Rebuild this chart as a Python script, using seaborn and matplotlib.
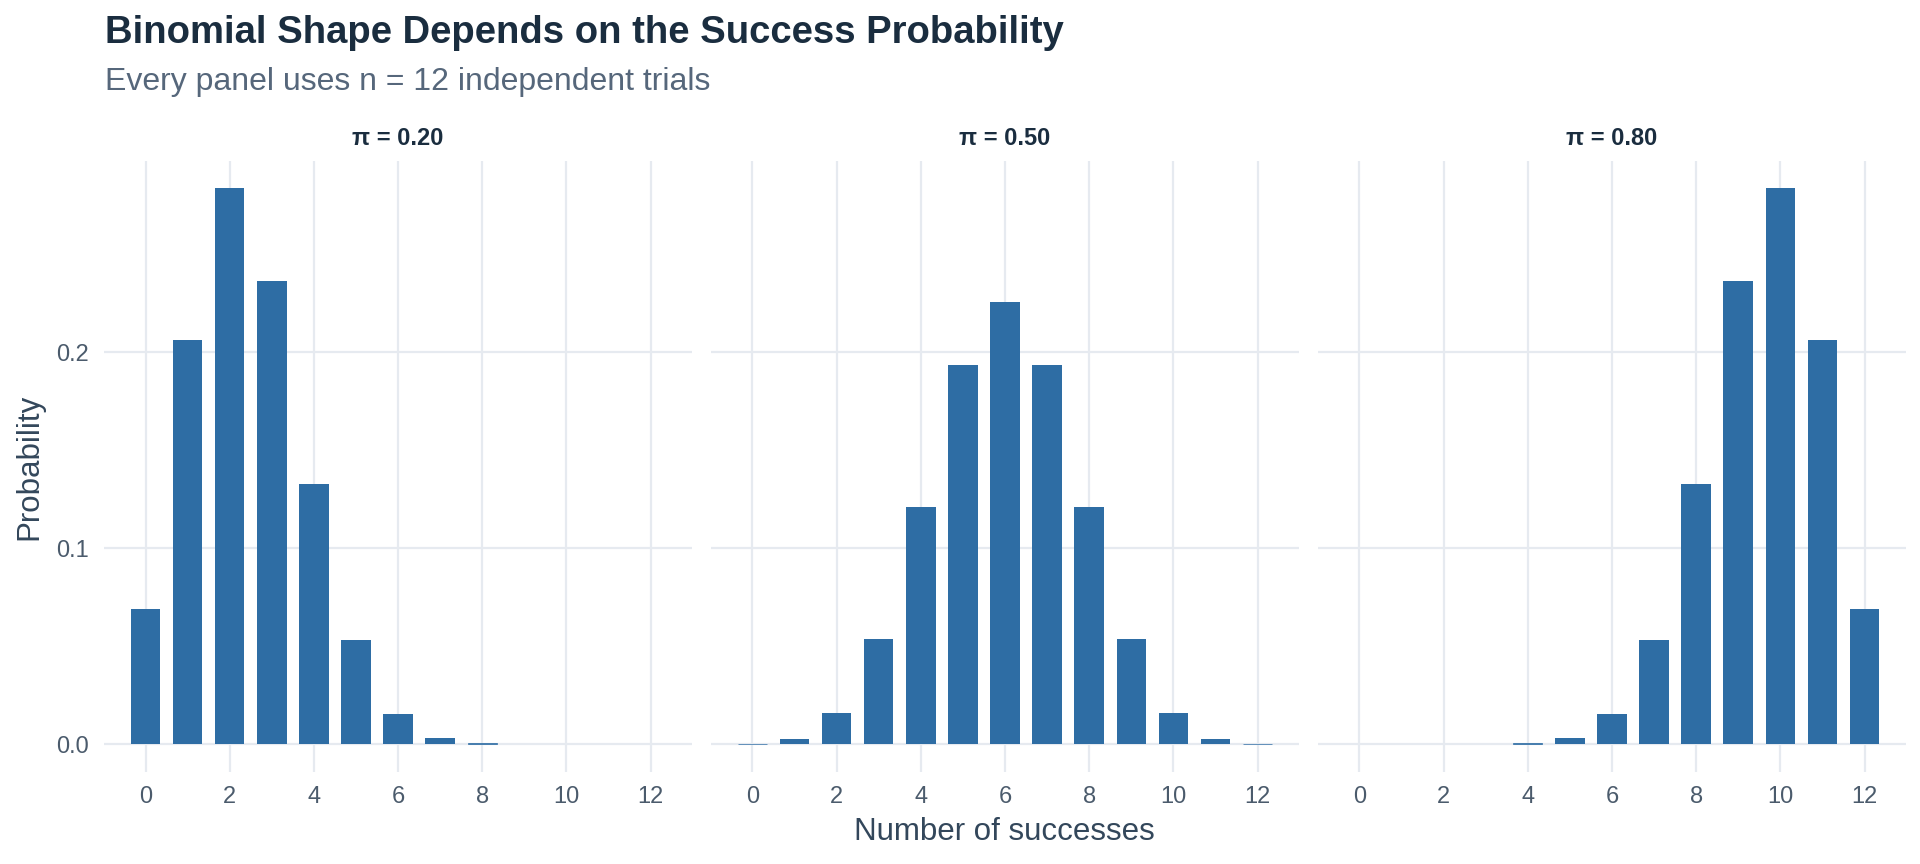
import numpy as np
import pandas as pd
import matplotlib
matplotlib.use("Agg")
import matplotlib.pyplot as plt
import seaborn as sns

# values (n = 12 trials)
successes = list(range(13))
panel_labels = ["π = 0.20", "π = 0.50", "π = 0.80"]
prob_020 = [0.0687, 0.2062, 0.2835, 0.2362, 0.1329, 0.0532, 0.0155,
            0.0033, 0.0005, 0.0001, 0.0, 0.0, 0.0]
prob_050 = [0.0002, 0.0029, 0.0161, 0.0537, 0.1208, 0.1934, 0.2256,
            0.1934, 0.1208, 0.0537, 0.0161, 0.0029, 0.0002]
prob_080 = [0.0, 0.0, 0.0, 0.0001, 0.0005, 0.0033, 0.0155,
            0.0532, 0.1329, 0.2362, 0.2835, 0.2062, 0.0687]

bar_color = "#2e6da4"
grid_color = "#e6eaf0"
title_color = "#1a2d3f"
sub_color = "#56677b"
text_color = "#33475b"
tick_color = "#4b5b6c"

df = pd.DataFrame({
    "successes": successes * 3,
    "probability": prob_020 + prob_050 + prob_080,
    "panel": np.repeat(panel_labels, len(successes)),
})

sns.set_theme(style="white")
plt.rcParams["font.family"] = ["Liberation Sans", "DejaVu Sans"]

g = sns.FacetGrid(df, col="panel", col_order=panel_labels, sharex=True, sharey=True,
                  height=8.64, aspect=1920 / 864 / 3, despine=False)
g.map_dataframe(sns.barplot, x="successes", y="probability", native_scale=True,
                width=0.7, color=bar_color, linewidth=0, saturation=1)
g.figure.set_size_inches(19.2, 8.64)
g.figure.subplots_adjust(left=0.0542, right=0.9927, top=0.8142, bottom=0.1065, wspace=0.032)

# very small bars: give the nonzero ones a hairline outline so they stay visible
for ax in g.axes.flat:
    for bar in ax.patches:
        if 0.00015 < bar.get_height() < 0.002:
            bar.set_edgecolor(bar_color)
            bar.set_linewidth(0.5)

ymax = max(prob_020 + prob_050 + prob_080)
for ax, label in zip(g.axes.flat, panel_labels):
    ax.set_xlim(-0.985, 12.985)
    ax.set_ylim(-0.05 * ymax, 1.05 * ymax)
    ax.set_xticks(range(0, 13, 2))
    ax.set_xticklabels([str(v) for v in range(0, 13, 2)])
    ax.set_yticks([0.0, 0.1, 0.2])
    ax.grid(True, color=grid_color, linewidth=1.6)
    ax.set_axisbelow(True)
    for s in ax.spines.values():
        s.set_visible(False)
    ax.tick_params(length=0, labelsize=17, colors=tick_color)
    ax.tick_params(axis="x", pad=10)
    ax.tick_params(axis="y", pad=11)
    ax.set_title(label, fontsize=17, fontweight="bold", color=title_color, pad=11)
    ax.set_xlabel("")
    ax.set_ylabel("")

fig = g.figure
fig.text(0.0547, 0.950, "Binomial Shape Depends on the Success Probability",
         fontsize=27.5, fontweight="bold", color=title_color, va="baseline", ha="left")
fig.text(0.0547, 0.896, "Every panel uses n = 12 independent trials",
         fontsize=23, color=sub_color, va="baseline", ha="left")
fig.text(0.523, 0.0278, "Number of successes", fontsize=22.5, color=text_color,
         va="baseline", ha="center")
fig.text(0.0151, 0.46, "Probability", fontsize=22.5, color=text_color,
         va="center", ha="center", rotation=90)

fig.savefig("out.png", dpi=100, facecolor="white")
